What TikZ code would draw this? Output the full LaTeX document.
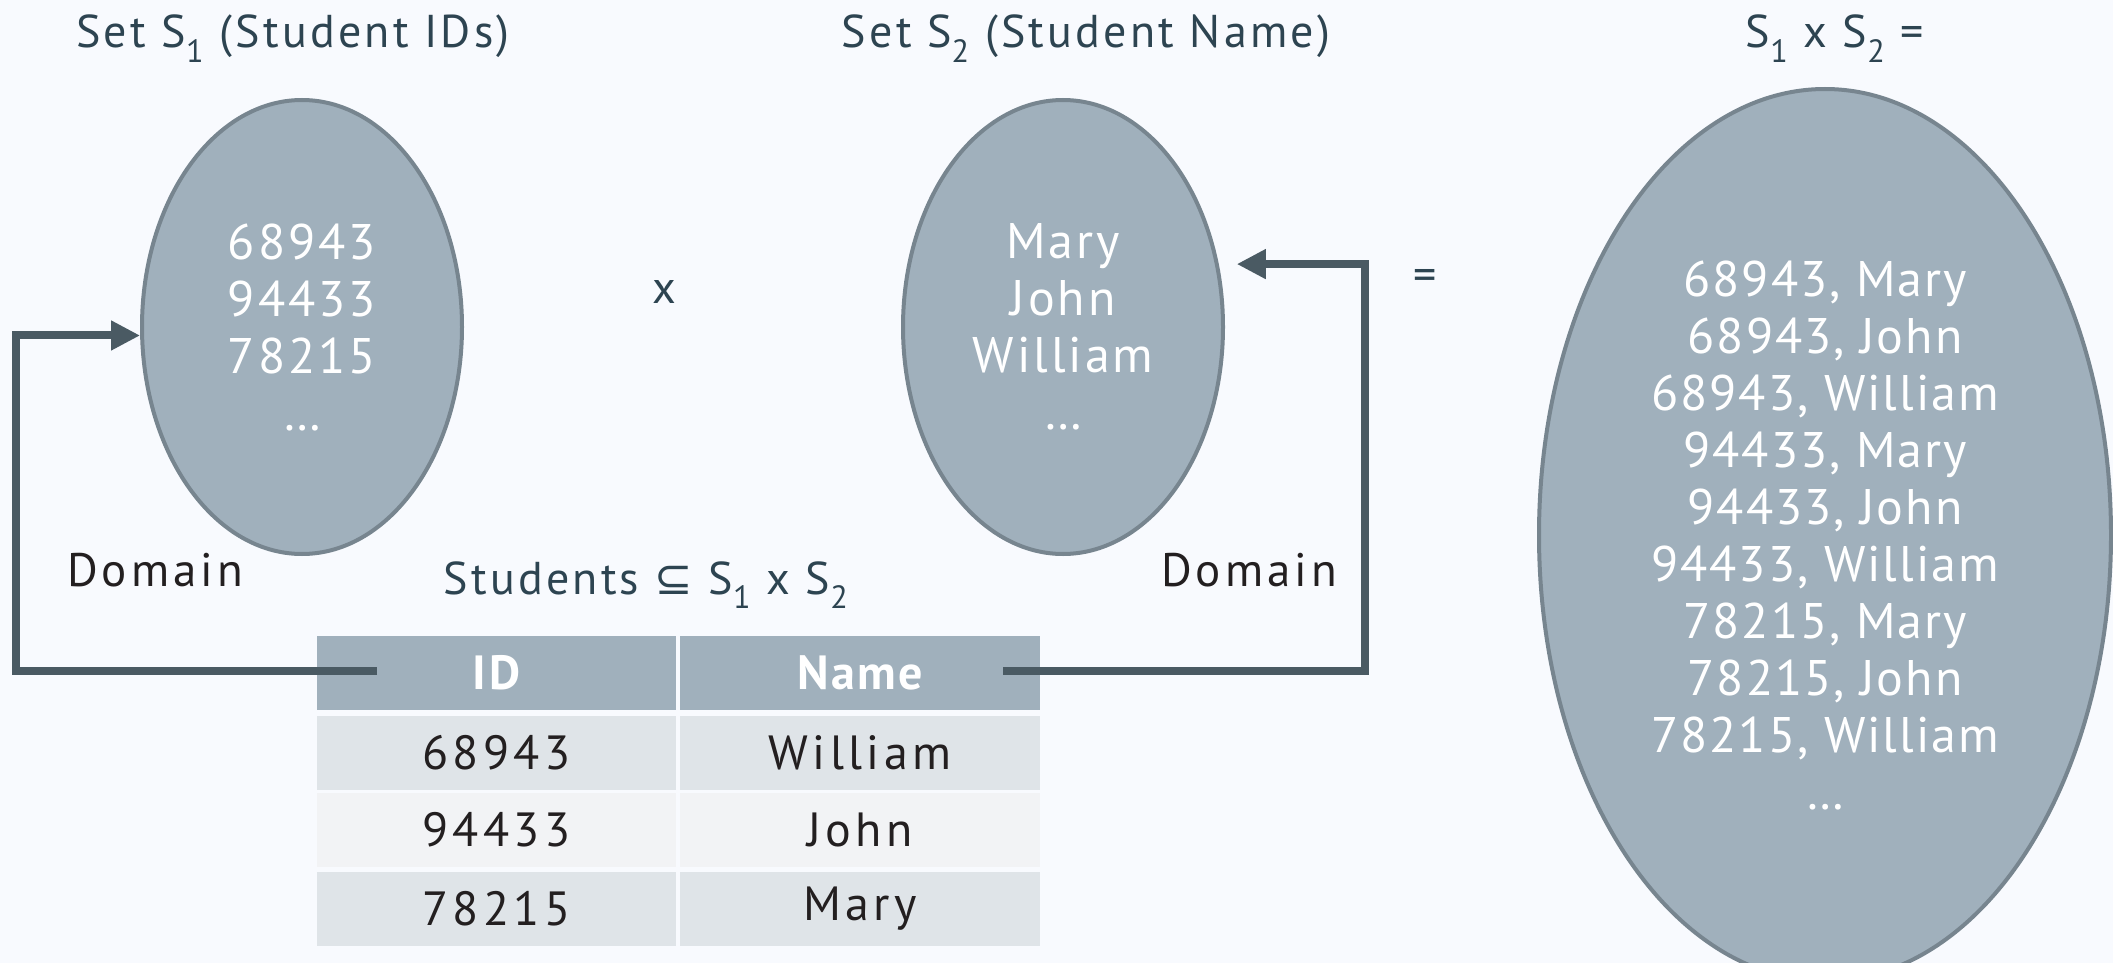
\documentclass[tikz,border=0pt]{standalone}
\usepackage{fontspec}
\setmainfont{PT Sans}
\newfontfamily\symfont{DejaVu Sans}
\usetikzlibrary{shapes.geometric,arrows.meta}

\definecolor{bgcol}{HTML}{F8FAFE}
\definecolor{setfill}{HTML}{A0B0BC}
\definecolor{setline}{HTML}{77858F}
\definecolor{arrowcol}{HTML}{4A5A63}
\definecolor{titlecol}{HTML}{2D4451}
\definecolor{textcol}{HTML}{231F20}
\definecolor{rowa}{HTML}{DFE4E8}
\definecolor{rowb}{HTML}{F2F3F5}

\tikzset{
	setnode/.style={ellipse, draw=setline, line width=4pt, fill=setfill, text=white,
		align=center, inner sep=0pt, font=\fontsize{50}{57}\selectfont\addfontfeatures{LetterSpace=6}},
	titletext/.style={anchor=base, text=titlecol, font=\fontsize{46}{52}\selectfont\addfontfeatures{LetterSpace=7}},
	domtext/.style={anchor=base, text=textcol, font=\fontsize{47}{52}\selectfont\addfontfeatures{LetterSpace=8.5}},
	domarrow/.style={draw=arrowcol, line width=8pt, -{Triangle[length=29pt,width=28pt]}},
	cell/.style={minimum height=74pt, inner sep=0pt, text=textcol, font=\fontsize{48}{52}\selectfont\addfontfeatures{LetterSpace=9}},
	headcell/.style={cell, fill=setfill, text=white, font=\fontsize{48}{52}\selectfont\bfseries\addfontfeatures{LetterSpace=5}}
}

\begin{document}
\begin{tikzpicture}[x=1pt,y=-1pt]
		\useasboundingbox (0,0) rectangle (2113,963);
		\clip (0,0) rectangle (2113,963);
		\fill[bgcol] (0,0) rectangle (2113,963);

		% titles
		\node[titletext] (t1) at (293,48) {Set S\textsubscript{1} (Student IDs)};
		\node[titletext] (t2) at (1086,48) {Set S\textsubscript{2} (Student Name)};
		\node[titletext] (t3) at (1835,48) {S\textsubscript{1} x S\textsubscript{2} =};

		% the three sets
		\node[setnode, minimum width=320pt, minimum height=454pt] (s1) at (302,327)
			{68943\\94433\\78215\\\ldots};
		\node[setnode, minimum width=320pt, minimum height=454pt] (s2) at (1063,327)
			{Mary\\John\\William\\\ldots};
		\node[setnode, minimum width=572pt, minimum height=892pt,
			font=\fontsize{50}{57}\selectfont\addfontfeatures{LetterSpace=4}] (prod) at (1825,535)
			{68943, Mary\\68943, John\\68943, William\\94433, Mary\\94433, John\\
			94433, William\\78215, Mary\\78215, John\\78215, William\\\ldots};

		\node[text=titlecol, font=\fontsize{46}{52}\selectfont] (times) at (664,292) {x};
		\node[text=titlecol, font=\fontsize{46}{52}\selectfont] (equals) at (1425,280) {=};

		% relation table
		\node[titletext] (rel) at (646,594) {Students {\symfont ⊆} S\textsubscript{1} x S\textsubscript{2}};
		\node[headcell, minimum width=359pt] (idhead) at (496.5,673) {ID};
		\node[headcell, minimum width=360pt] (nmhead) at (860,673) {Name};
		\foreach \i/\id/\nm/\col/\y in {1/68943/William/rowa/753, 2/94433/John/rowb/830, 3/78215/Mary/rowa/909} {
			\node[cell, fill=\col, minimum width=359pt] (id\i) at (496.5,\y) {\id};
			\node[cell, fill=\col, minimum width=360pt] (nm\i) at (860,\y) {\nm};
		}

		% domains
		\node[domtext] (dom1) at (155,586) {Domain};
		\node[domtext] (dom2) at (1249,586) {Domain};
		\coordinate (idtail) at (377,671);
		\coordinate (nmtail) at (1003,671);
		\draw[domarrow] (idtail) -- ++(-361,0) |- (s1.183);
		\draw[domarrow, shorten >=18pt] (nmtail) -- ++(362,0) |- (s2.22);
\end{tikzpicture}
\end{document}
